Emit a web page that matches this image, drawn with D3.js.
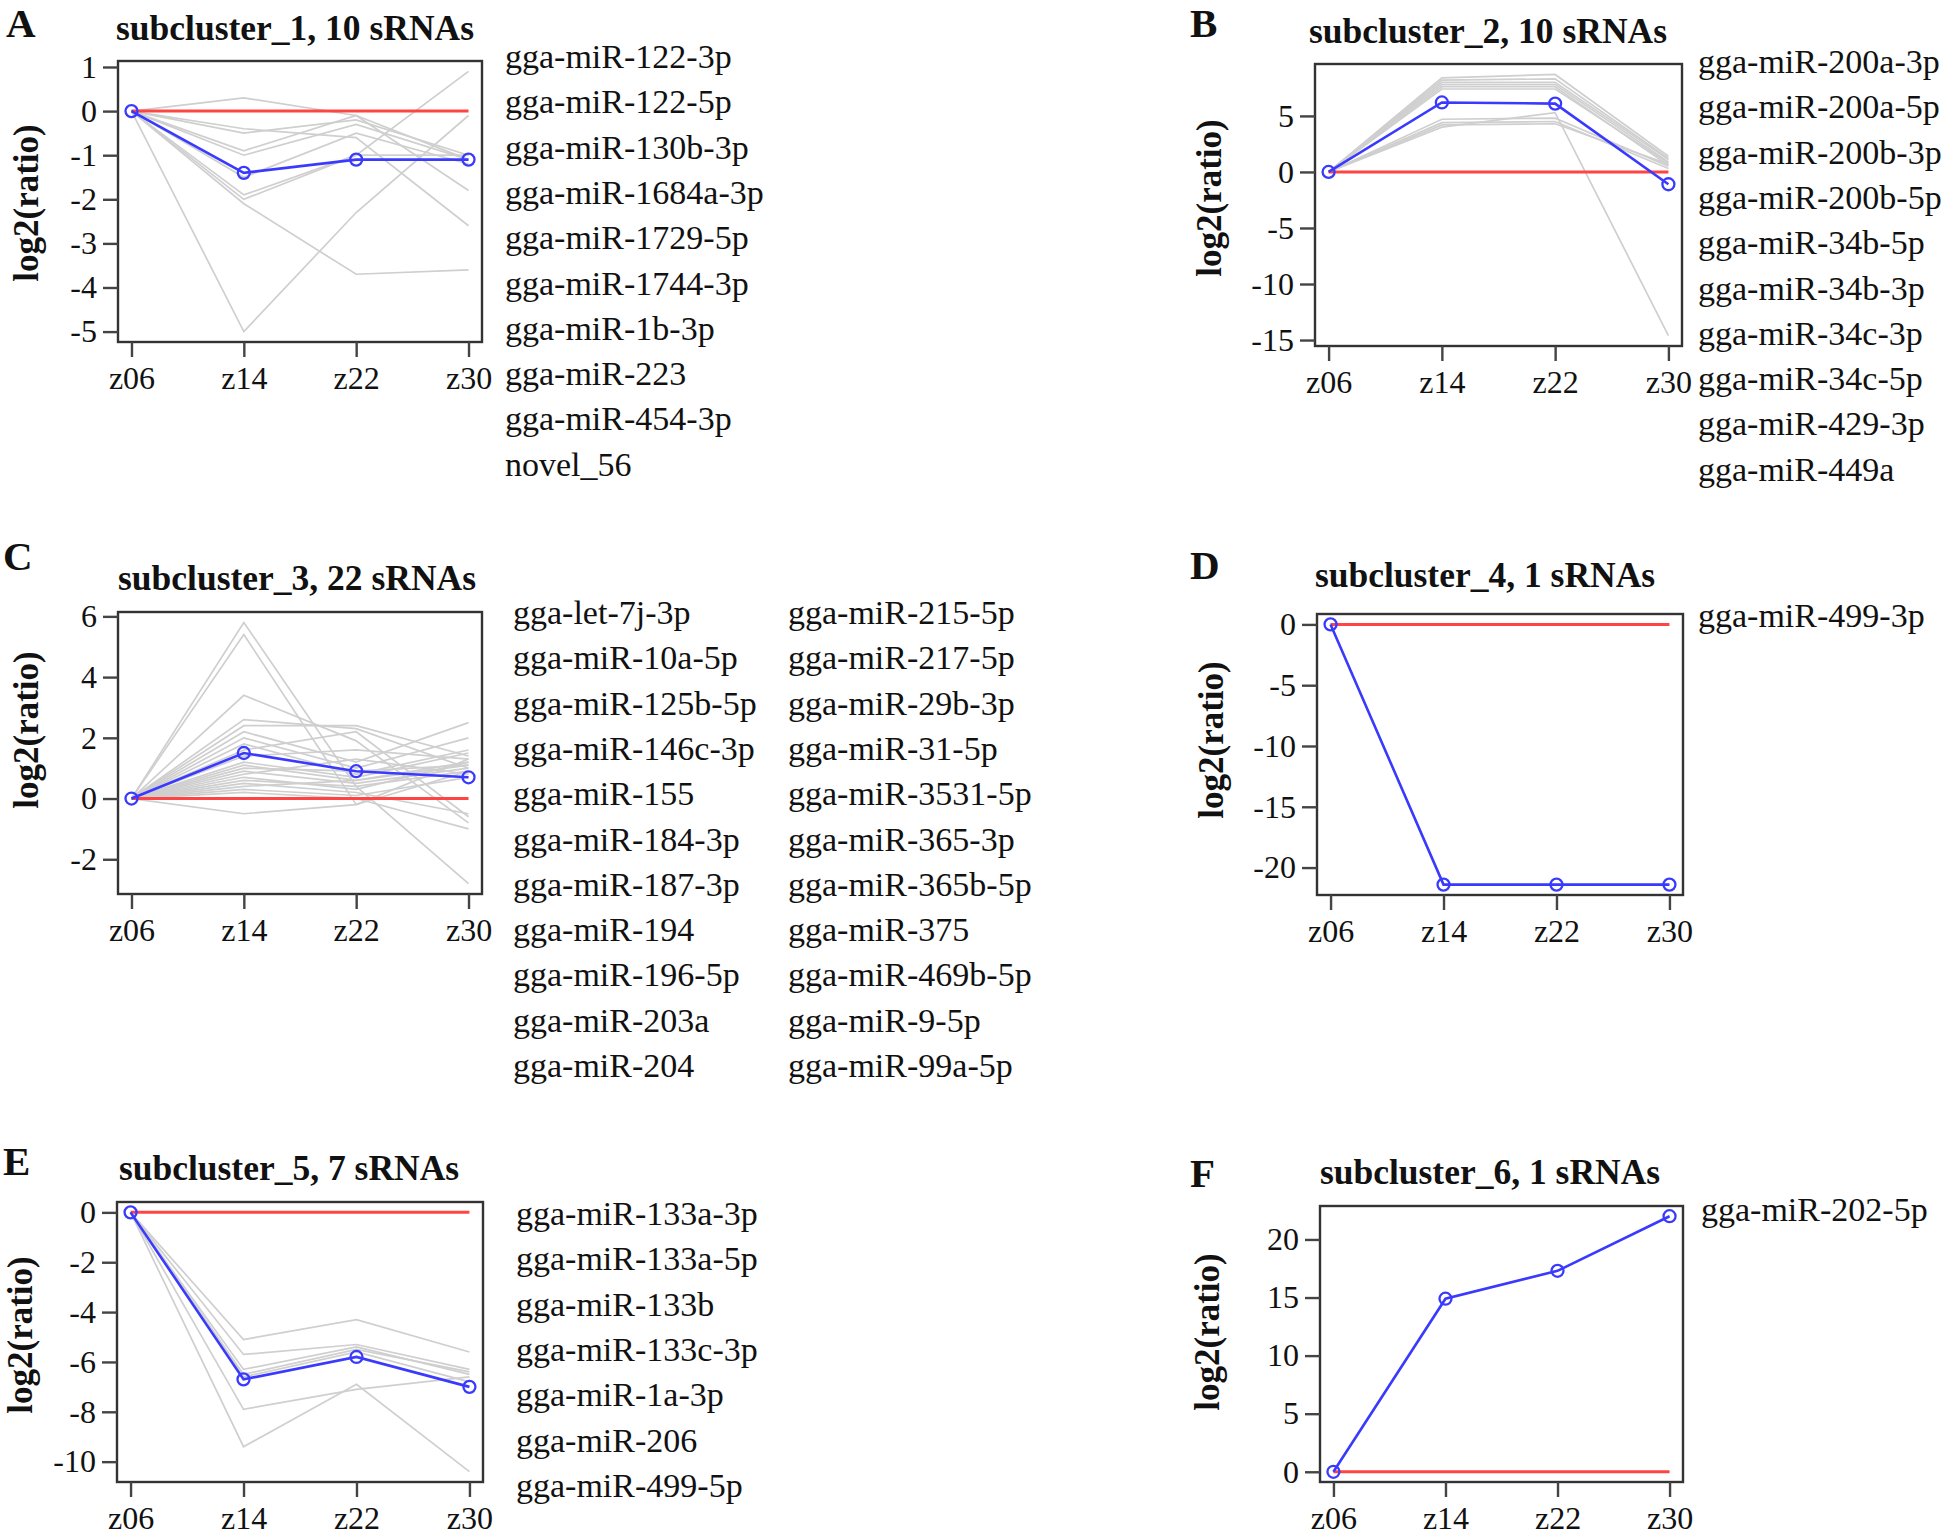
<!DOCTYPE html>
<html>
<head>
<meta charset="utf-8">
<script src="https://cdn.jsdelivr.net/npm/d3@7"></script>
<style>
  body { margin: 0; background: #fff; }
  text { font-family: "Liberation Serif", "Times New Roman", serif; fill: #111; }
</style>
</head>
<body>
<script>
// time points on the x axis
var timepoints = ["z06", "z14", "z22", "z30"];

var panelLetters = ["A", "B", "C", "D", "E", "F"];
var panelTitles = ["subcluster_1, 10 sRNAs", "subcluster_2, 10 sRNAs", "subcluster_3, 22 sRNAs",
                   "subcluster_4, 1 sRNAs", "subcluster_5, 7 sRNAs", "subcluster_6, 1 sRNAs"];

// y tick values for each panel
var yTicks = [[1, 0, -1, -2, -3, -4, -5], [5, 0, -5, -10, -15], [6, 4, 2, 0, -2],
              [0, -5, -10, -15, -20], [0, -2, -4, -6, -8, -10], [0, 5, 10, 15, 20]];

// gene names listed beside each panel
var genes1 = ["gga-miR-122-3p", "gga-miR-122-5p", "gga-miR-130b-3p", "gga-miR-1684a-3p", "gga-miR-1729-5p",
              "gga-miR-1744-3p", "gga-miR-1b-3p", "gga-miR-223", "gga-miR-454-3p", "novel_56"];
var genes2 = ["gga-miR-200a-3p", "gga-miR-200a-5p", "gga-miR-200b-3p", "gga-miR-200b-5p", "gga-miR-34b-5p",
              "gga-miR-34b-3p", "gga-miR-34c-3p", "gga-miR-34c-5p", "gga-miR-429-3p", "gga-miR-449a"];
var genes3a = ["gga-let-7j-3p", "gga-miR-10a-5p", "gga-miR-125b-5p", "gga-miR-146c-3p", "gga-miR-155",
               "gga-miR-184-3p", "gga-miR-187-3p", "gga-miR-194", "gga-miR-196-5p", "gga-miR-203a", "gga-miR-204"];
var genes3b = ["gga-miR-215-5p", "gga-miR-217-5p", "gga-miR-29b-3p", "gga-miR-31-5p", "gga-miR-3531-5p",
               "gga-miR-365-3p", "gga-miR-365b-5p", "gga-miR-375", "gga-miR-469b-5p", "gga-miR-9-5p", "gga-miR-99a-5p"];
var genes4 = ["gga-miR-499-3p"];
var genes5 = ["gga-miR-133a-3p", "gga-miR-133a-5p", "gga-miR-133b", "gga-miR-133c-3p", "gga-miR-1a-3p",
              "gga-miR-206", "gga-miR-499-5p"];
var genes6 = ["gga-miR-202-5p"];

// individual sRNA profiles (grey) and cluster centre (blue), log2 ratio vs z06
var lines1 = [
  [0, 0.3, -0.1, -1.1], [0, -5.0, -2.3, -0.1], [0, -2.1, -3.7, -3.6], [0, -2.0, -1.0, 0.9],
  [0, -1.9, -1.0, -1.0], [0, -0.4, -0.6, -2.6], [0, -0.9, -0.1, -1.8], [0, -1.0, -0.3, -1.1],
  [0, -1.5, -0.5, -1.2], [0, -0.5, -0.2, -1.0]
];
var mean1 = [0, -1.4, -1.1, -1.1];

var lines2 = [
  [0, 8.4, 8.7, 1.4], [0, 8.2, 8.3, 1.2], [0, 8.0, 8.0, 1.1], [0, 7.8, 7.8, 0.9],
  [0, 7.4, 7.4, 0.8], [0, 7.6, 7.6, 0.6], [0, 4.7, 4.8, 0.5], [0, 4.4, 4.5, 0.3],
  [0, 4.2, 4.3, 0.7], [0, 4.0, 5.3, -14.6]
];
var mean2 = [0, 6.2, 6.1, -1.1];

var lines3 = [
  [0, 5.8, 0.4, -2.8], [0, 5.4, -0.2, 0.9], [0, 3.4, 1.9, -0.8], [0, 2.6, 2.3, 1.0],
  [0, 2.4, 2.4, 1.4], [0, 2.2, 1.2, 2.5], [0, 2.0, 1.0, 2.0], [0, 1.8, 0.8, 1.6],
  [0, 1.6, 2.2, -0.6], [0, 1.4, 1.6, 1.3], [0, 1.2, 0.7, 1.5], [0, 1.1, 0.6, 1.2],
  [0, 1.0, 0.9, 1.1], [0, 0.9, 0.5, 1.0], [0, 0.8, 1.3, 0.8], [0, 0.7, 0.3, 1.2],
  [0, 0.6, 0.4, 0.9], [0, 0.5, 0.2, -0.5], [0, 0.4, 0.6, 1.1], [0, 0.3, 0.1, 0.7],
  [0, 0.2, 0.0, -1.0], [0, -0.5, -0.2, 1.3]
];
var mean3 = [0, 1.5, 0.9, 0.7];

var lines4 = [[0, -21.4, -21.4, -21.4]];
var mean4 = [0, -21.4, -21.4, -21.4];

var lines5 = [
  [0, -5.1, -4.3, -5.6], [0, -5.7, -5.3, -6.3], [0, -6.3, -5.4, -6.5], [0, -6.6, -5.6, -6.8],
  [0, -7.9, -7.1, -6.6], [0, -9.4, -6.9, -10.4], [0, -6.5, -5.5, -6.4]
];
var mean5 = [0, -6.7, -5.8, -7.0];

var lines6 = [[0, 14.9, 17.3, 22.0]];
var mean6 = [0, 14.9, 17.3, 22.0];

// layout of each panel (plot box, title, letters, label columns)
var panels = [
  { box: [118, 61, 364, 281], title: [295, 40], letter: [6, 37], ylab: [27, 203], genes: [genes1], gx: [505], gy: 68, lines: lines1, mean: mean1 },
  { box: [1315, 64, 367, 282], title: [1488, 43], letter: [1190, 37], ylab: [1210, 198], genes: [genes2], gx: [1698], gy: 73, lines: lines2, mean: mean2 },
  { box: [118, 612, 364, 282], title: [297, 590], letter: [3, 570], ylab: [27, 730], genes: [genes3a, genes3b], gx: [513, 788], gy: 624, lines: lines3, mean: mean3 },
  { box: [1317, 614, 366, 281], title: [1485, 587], letter: [1190, 579], ylab: [1212, 740], genes: [genes4], gx: [1698], gy: 627, lines: lines4, mean: mean4 },
  { box: [117, 1202, 366, 280], title: [289, 1180], letter: [3, 1175], ylab: [21, 1335], genes: [genes5], gx: [516], gy: 1225, lines: lines5, mean: mean5 },
  { box: [1320, 1206, 363, 276], title: [1490, 1184], letter: [1190, 1187], ylab: [1208, 1332], genes: [genes6], gx: [1701], gy: 1221, lines: lines6, mean: mean6 }
];

var lineGap = 45.3;

var svg = d3.select("body").append("svg")
  .attr("width", 1946)
  .attr("height", 1537)
  .style("background", "#fff");

panels.forEach(function(p, k) {
  var left = p.box[0], top = p.box[1], w = p.box[2], h = p.box[3];

  // R style 4% padding around the data range
  var all = p.lines.concat([p.mean, [0]]);
  var ext = d3.extent(d3.merge(all));
  var pad = (ext[1] - ext[0]) * 0.04;

  var x = d3.scaleLinear().domain([-0.12, 3.12]).range([left, left + w]);
  var y = d3.scaleLinear().domain([ext[0] - pad, ext[1] + pad]).range([top + h, top]);

  var g = svg.append("g").attr("class", "panel");

  var line = d3.line()
    .x(function(d, i) { return x(i); })
    .y(function(d) { return y(d); });

  // grey individual profiles
  g.append("g").selectAll("path.member")
    .data(p.lines)
    .enter().append("path")
    .attr("class", "member")
    .attr("d", line)
    .attr("fill", "none")
    .attr("stroke", "#cfcfcf")
    .attr("stroke-width", 1.7);

  // zero reference
  g.append("line")
    .attr("x1", x(0)).attr("x2", x(3))
    .attr("y1", y(0)).attr("y2", y(0))
    .attr("stroke", "#ff4444")
    .attr("stroke-width", 3);

  // cluster centre
  g.append("path")
    .datum(p.mean)
    .attr("d", line)
    .attr("fill", "none")
    .attr("stroke", "#3a3aff")
    .attr("stroke-width", 2.6);

  g.append("g").selectAll("circle")
    .data(p.mean)
    .enter().append("circle")
    .attr("cx", function(d, i) { return x(i); })
    .attr("cy", function(d) { return y(d); })
    .attr("r", 6)
    .attr("fill", "none")
    .attr("stroke", "#3a3aff")
    .attr("stroke-width", 2.3);

  // box
  g.append("rect")
    .attr("x", left).attr("y", top)
    .attr("width", w).attr("height", h)
    .attr("fill", "none")
    .attr("stroke", "#333")
    .attr("stroke-width", 2.4);

  // axes
  var yAxis = g.append("g")
    .attr("transform", "translate(" + left + ",0)")
    .call(d3.axisLeft(y).tickValues(yTicks[k]).tickSize(15).tickPadding(6).tickFormat(d3.format("d")));
  var xAxis = g.append("g")
    .attr("transform", "translate(0," + (top + h) + ")")
    .call(d3.axisBottom(x).tickValues([0, 1, 2, 3]).tickSize(15).tickPadding(9)
      .tickFormat(function(i) { return timepoints[i]; }));

  [yAxis, xAxis].forEach(function(a) {
    a.select(".domain").remove();
    a.selectAll(".tick line").attr("stroke", "#444").attr("stroke-width", 2.4);
    a.selectAll(".tick text")
      .style("font-family", "'Liberation Serif', serif")
      .style("font-size", "32px")
      .attr("fill", "#111");
  });
  // plain hyphen minus like the R output
  yAxis.selectAll(".tick text").text(function(d) { return String(d); });

  // title
  g.append("text")
    .attr("x", p.title[0]).attr("y", p.title[1])
    .attr("text-anchor", "middle")
    .style("font-size", "35.5px")
    .style("font-weight", "bold")
    .text(panelTitles[k]);

  // panel letter
  g.append("text")
    .attr("x", p.letter[0]).attr("y", p.letter[1])
    .style("font-size", "41px")
    .style("font-weight", "bold")
    .text(panelLetters[k]);

  // y axis label
  g.append("text")
    .attr("transform", "translate(" + (p.ylab[0] + 11) + "," + p.ylab[1] + ") rotate(-90)")
    .attr("text-anchor", "middle")
    .style("font-size", "35px")
    .style("font-weight", "bold")
    .text("log2(ratio)");

  // gene lists
  p.genes.forEach(function(list, c) {
    g.append("g").selectAll("text.gene")
      .data(list)
      .enter().append("text")
      .attr("class", "gene")
      .attr("x", p.gx[c])
      .attr("y", function(d, i) { return p.gy + i * lineGap; })
      .style("font-size", "34px")
      .text(function(d) { return d; });
  });
});
</script>
</body>
</html>
